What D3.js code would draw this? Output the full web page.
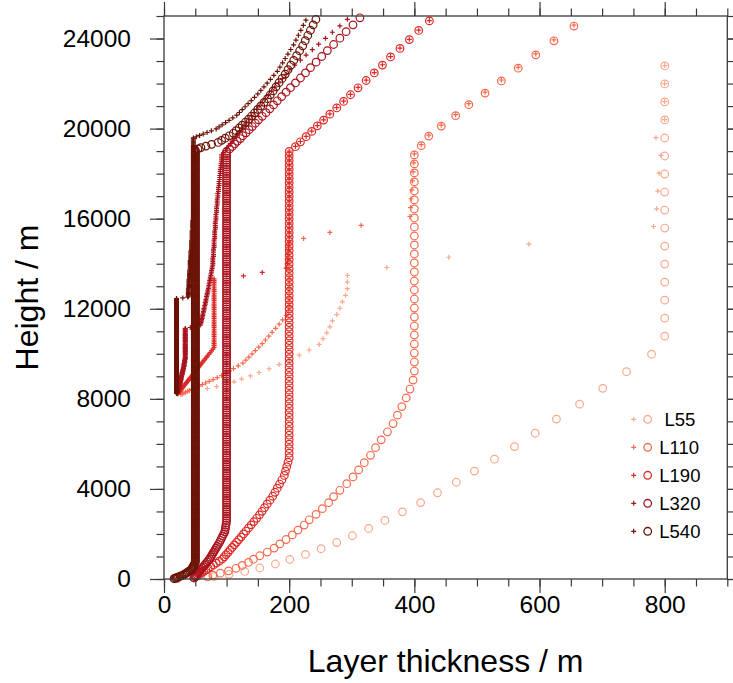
<!DOCTYPE html>
<html><head><meta charset="utf-8">
<script src="https://cdn.jsdelivr.net/npm/d3@7"></script>
<style>body{margin:0;background:#fff}svg{display:block}text{font-family:"Liberation Sans",Arial,Helvetica,sans-serif}</style>
</head><body><svg id="c" width="733" height="683"></svg>
<script>
// ---------------- DATA ----------------
// Layer thickness (m) of each model layer, listed from the lowest layer upward.
// Level height = base height + running sum of layer thicknesses.
const seriesNames = ["L55", "L110", "L190", "L320", "L540"];
const legendLabels = [" L55", "L110", "L190", "L320", "L540"];

// circles: grid over flat ground (base height 0 m)
const circleBase = [0, 0, 0, 0, 0];
// crosses: grid over an ~8.2 km mountain (surface heights)
const plusBase = [8274, 8175, 8209, 8210, 8233];

const L55_circle = [22,80,104,129,153,178,201,226,251,276,301,327,353,381,410,437,467,496,528,560,593,627,664,701,739,779,
800,800,800,800,800,800,800,800,800,800,800,800,800,800,800,800];

const L55_plus = [26,38,52,69,84,100,112,124,138,152,168,184,200,216,232,248,254,260,265,269,276,281,285,290,293,293,293,
356,455,583,782,787,789,791,794,786,800,800,800,800];

const L110_circle = [20,70,78,90,103,115,125,135,143,153,165,176,185,195,205,214,224,232,243,253,263,271,281,292,302,311,
320,330,338,347,357,366,373,380,387,393,398,
400,400,400,400,400,400,400,400,400,400,400,400,400,400,400,400,400,400,400,400,
400,400,400,400,400,
411,423,443,466,487,513,539,566,594,623,655];

const L110_plus = [27,29.3,31.8,34.5,37.5,40.7,44.2,48,52,56.5,61.3,66.5,72.2,78.4,85,92,98,104.5,111,118.5,126,130.7,
135.6,140.7,146,151.4,157,162,167.4,172.8,178.4,184,189.6,195.5,199,
200,200,200,200,200,200,200,200,200,200,200,200,200,200,200,
223,265,315,393,394,395,396,397,398,399,400,
411,423,443,466,487,513,539,566,594,623,655];

const L190_circle = [48,50.7,53.6,56.7,59.9,63.3,66.9,70.7,74.8,79,83.5,88.3,93.3,96.2,99.3,102.4,105.6,108.9,112.3,
115.9,119.5,123.3,127.1,131,135.1,139.3,143.6,148,152.6,156.6,160.7,164.9,169.3,173.7,177.3,180.9,184.6,188.4,
192.2,194.1,196.1,198.1,
200,200,200,200,200,200,200,200,200,200,200,200,200,200,200,200,200,200,200,200,
200,200,200,200,200,200,200,200,200,200,200,200,200,200,200,200,200,200,200,200,
200,200,200,200,200,200,200,200,200,200,200,200,200,200,200,200,200,200,200,200,
200,200,200,200,200,200,200,200,200,
210,218,227,236,245,255,265,276,287,298,310,323,336,349,362,377,392,407,424];

const L190_plus = [22,22.6,23.3,24,24.7,25.4,26.2,26.9,27.7,28.5,29.4,30.2,31.1,32,33,33.9,34.9,35.9,37,38.1,39.2,
40.3,41.5,42.7,44,45.3,46.6,47.9,49.3,50.8,52.3,53.8,55.4,57,58.6,60.3,62.1,63.9,65.8,67.7,69.7,71.7,73.8,76,78.2,80,
80,80,80,80,80,80,80,80,80,80,80,80,80,80,80,80,80,80,80,80,
80,80,80,80,80,80,80,80,80,80,80,80,80,80,80,80,80,80,
127,157,195,197,198,198,199,199,
200,200,200,200,200,200,200,200,200,200,200,200,200,200,200,200,200,200,200,200,
200,
210,218,227,236,245,255,265,276,287,298,310,323,336,349,362,377,392,407,424];

const L320_circle = [48,49.5,51,52.5,54.1,55.8,57.5,59.2,61,62.9,64.8,66.8,68.8,70.9,73,74.6,76.2,77.9,79.6,81.3,83.1,
84.9,86.8,88.7,90.3,92,93.7,95.4,97.2,97.8,98.3,98.9,99.5,
100,100,100,100,100,100,100,100,100,100,100,100,100,100,100,100,100,100,100,100,
100,100,100,100,100,100,100,100,100,100,100,100,100,100,100,100,100,100,100,100,
100,100,100,100,100,100,100,100,100,100,100,100,100,100,100,100,100,100,100,100,
100,100,100,100,100,100,100,100,100,100,100,100,100,100,100,100,100,100,100,100,
100,100,100,100,100,100,100,100,100,100,100,100,100,100,100,100,100,100,100,100,
100,100,100,100,100,100,100,100,100,100,100,100,100,100,100,100,100,100,100,100,
100,100,100,100,100,100,100,100,100,100,100,100,100,100,100,100,100,100,100,100,
100,100,100,100,100,100,100,100,100,100,100,100,100,100,100,100,100,100,100,100,
100,100,100,100,100,
105,109,113,117,122,126,131,136,141,146,151,157,163,169,175,181,188,195,202,210,218,226,234,243,252,261,271,281,
291,302,313];

const L320_plus = [21,21,21,21,22,22,22,22,23,23,23,23,24,24,24,24,25,25,25,25,26,26,26,26,26,27,27,27,27,27,
28,28,28,28,29,29,29,29,30,30,30,30,31,31,31,31,32,32,32,32,32,33,33,33,33,33,
34,34,34,34,34,34,34,34,34,34,34,34,34,34,34,34,34,34,34,34,
34,34,34,34,34,34,34,34,34,34,34,34,34,34,34,34,34,34,34,34,
34,
42,50,58,
59,59,60,60,61,61,62,62,63,63,64,64,65,65,66,66,67,67,68,68,69,69,70,70,71,71,
72,72,73,73,74,74,75,75,76,76,77,77,
78,78,78,78,78,79,79,79,79,79,80,80,80,80,80,81,81,81,81,81,82,82,82,82,82,
83,83,83,83,84,84,84,84,85,85,85,85,
86,86,86,87,87,87,88,88,88,89,89,89,90,90,90,91,91,91,92,92,92,92,
95,98,
100,103,106,109,112,115,118,121,124,128,132,136,140,144,148,152,157,162,167,172,177,183,189,195,201,
209,218,227,237,247,258,269,281,293];

const L540_circle = [16,17.6,19.4,21.3,23.4,25.8,28.4,31.2,33,34.9,36.9,39,41.3,43.7,44.6,45.5,46.4,47.3,48.3,49.2,
50,50,50,50,50,50,50,50,50,50,50,50,50,50,50,50,50,50,50,50,
50,50,50,50,50,50,50,50,50,50,50,50,50,50,50,50,50,50,50,50,
50,50,50,50,50,50,50,50,50,50,50,50,50,50,50,50,50,50,50,50,
50,50,50,50,50,50,50,50,50,50,50,50,50,50,50,50,50,50,50,50,
50,50,50,50,50,50,50,50,50,50,50,50,50,50,50,50,50,50,50,50,
50,50,50,50,50,50,50,50,50,50,50,50,50,50,50,50,50,50,50,50,
50,50,50,50,50,50,50,50,50,50,50,50,50,50,50,50,50,50,50,50,
50,50,50,50,50,50,50,50,50,50,50,50,50,50,50,50,50,50,50,50,
50,50,50,50,50,50,50,50,50,50,50,50,50,50,50,50,50,50,50,50,
50,50,50,50,50,50,50,50,50,50,50,50,50,50,50,50,50,50,50,50,
50,50,50,50,50,50,50,50,50,50,50,50,50,50,50,50,50,50,50,50,
50,50,50,50,50,50,50,50,50,50,50,50,50,50,50,50,50,50,50,50,
50,50,50,50,50,50,50,50,50,50,50,50,50,50,50,50,50,50,50,50,
50,50,50,50,50,50,50,50,50,50,50,50,50,50,50,50,50,50,50,50,
50,50,50,50,50,50,50,50,50,50,50,50,50,50,50,50,50,50,50,50,
50,50,50,50,50,50,50,50,50,50,50,50,50,50,50,50,50,50,50,50,
50,50,50,50,50,50,50,50,50,50,50,50,50,50,50,50,50,50,50,50,
50,50,50,50,50,50,50,50,50,50,50,50,50,50,50,50,50,50,50,50,
50,50,50,50,50,50,50,
54.3,59,67,76.1,86.5,92,97.9,104.2,110.8,115.3,120,124.9,130,135.3,139.9,144.7,149.6,154.7,160,165.4,169.8,174.3,
179,183.8,188.7,193.7,198.1,202.6,207.2,211.9,216.7,221.6,225.7,229.8,234,238.3,242.7];

const L540_plus = [
20,20,20,20,20,20,20,20,20,20,20,20,20,20,20,20,20,20,20,20,
20,20,20,20,20,20,20,20,20,20,20,20,20,20,20,20,20,20,20,20,
20,20,20,20,20,20,20,20,20,20,20,20,20,20,20,20,20,20,20,20,
20,20,20,20,20,20,20,20,20,20,20,20,20,20,20,20,20,20,20,20,
20,20,20,20,20,20,20,20,20,20,20,20,20,20,20,20,20,20,20,20,
20,20,20,20,20,20,20,20,20,20,20,20,20,20,20,20,20,20,20,20,
20,20,20,20,20,20,20,20,20,20,20,20,20,20,20,20,20,20,20,20,
20,20,20,20,20,20,20,20,20,20,20,20,20,20,20,20,20,20,20,20,
20,20,20,20,20,20,20,20,20,20,20,20,20,20,20,20,20,20,20,20,
20,20,20,20,20,20,20,20,20,20,20,20,20,20,20,20,20,20,20,20,
20,20,20,20,20,20,20,20,20,20,20,
30,38,
39,39,39,39,39,39,39,39,39,39,40,40,40,40,40,40,40,40,40,40,
41,41,41,41,41,41,41,41,41,41,42,42,42,42,42,42,42,42,42,42,
43,43,43,43,43,43,43,43,43,43,44,44,44,44,44,44,44,44,44,44,
45,45,45,45,45,45,45,45,45,45,46,46,46,46,46,46,46,46,46,46,
47,47,47,47,47,47,47,47,47,47,47,47,47,47,47,47,47,47,47,47,
47,47,47,47,47,47,47,47,47,47,47,47,47,47,47,47,47,47,47,47,
47,47,47,47,47,47,47,47,47,47,47,47,47,47,47,47,47,47,47,47,
47,47,47,47,47,47,47,47,47,47,47,47,47,47,47,47,47,47,
51.7,56.9,62.6,68.8,75.7,83.3,88,93,98.4,104,109.9,116.2,120.5,125,129.6,134.4,139.4,144.6,149.9,154.7,159.7,
164.8,170.1,175.5,181.1,185.2,189.4,193.6,198,202.5,207,210.8,214.7,218.6,222.6,226.7];

const circleSeries = [L55_circle, L110_circle, L190_circle, L320_circle, L540_circle];
const plusSeries = [L55_plus, L110_plus, L190_plus, L320_plus, L540_plus];

const xMajorTicks = [0, 200, 400, 600, 800];
const xMinorTicks = [0,50,100,150,200,250,300,350,400,450,500,550,600,650,700,750,800,850,900];
const yMajorTicks = [0, 4000, 8000, 12000, 16000, 20000, 24000];
const yMinorTicks = [0,1000,2000,3000,4000,5000,6000,7000,8000,9000,10000,11000,12000,13000,14000,15000,16000,17000,18000,19000,20000,21000,22000,23000,24000,25000];

// ---------------- STYLE ----------------
const colors = ["#fca88c", "#f56b4e", "#dc2a26", "#a8141e", "#6b1306"];
const W = 733, H = 683;
const plot = {left: 164, right: 727.3, top: 16, bottom: 579};
const axisColor = "#3a3a3a";

const svg = d3.select("#c");
const x = d3.scaleLinear().domain([0, 900]).range([plot.left, plot.right]);
const y = d3.scaleLinear().domain([0, 25000]).range([plot.bottom, plot.top]);

function levels(base, dz) {
  let z = base;
  return dz.map(d => { z += d; return {t: d, z: z}; }).filter(p => p.z <= 25000 && p.t <= 900);
}

const plusPath = "M-2.5,0H2.5M0,-2.5V2.5";
const marks = svg.append("g");
seriesNames.forEach((name, i) => {
  const g = marks.append("g").attr("class", "series-" + name);
  g.selectAll("circle").data(levels(circleBase[i], circleSeries[i])).join("circle")
    .attr("cx", d => x(d.t)).attr("cy", d => y(d.z)).attr("r", 3.8)
    .attr("fill", "none").attr("stroke", colors[i]).attr("stroke-width", 1.2);
  g.selectAll("path").data(levels(plusBase[i], plusSeries[i])).join("path")
    .attr("transform", d => `translate(${x(d.t)},${y(d.z)})`).attr("d", plusPath)
    .attr("fill", "none").attr("stroke", colors[i]).attr("stroke-width", 1.2);
});

// ---------------- AXES ----------------
function styleAxis(g) {
  g.selectAll("path.domain").remove();
  g.selectAll("line").attr("stroke", axisColor).attr("stroke-width", 1.2);
  g.selectAll("text").attr("fill", "#000").style("font-size", "24.5px")
    .style("font-family", '"Liberation Sans",Arial,Helvetica,sans-serif');
}
const fmt = d3.format("d");
// minor ticks
svg.append("g").attr("transform", `translate(0,${plot.bottom})`)
  .call(d3.axisBottom(x).tickValues(xMinorTicks).tickSize(7.5).tickFormat("")).call(styleAxis);
svg.append("g").attr("transform", `translate(0,${plot.top})`)
  .call(d3.axisTop(x).tickValues(xMinorTicks).tickSize(7.5).tickFormat("")).call(styleAxis);
svg.append("g").attr("transform", `translate(${plot.left},0)`)
  .call(d3.axisLeft(y).tickValues(yMinorTicks).tickSize(7.5).tickFormat("")).call(styleAxis);
svg.append("g").attr("transform", `translate(${plot.right},0)`)
  .call(d3.axisRight(y).tickValues(yMinorTicks).tickSize(7.5).tickFormat("")).call(styleAxis);
// major ticks
svg.append("g").attr("transform", `translate(0,${plot.bottom})`)
  .call(d3.axisBottom(x).tickValues(xMajorTicks).tickSize(14).tickPadding(3).tickFormat(fmt)).call(styleAxis);
svg.append("g").attr("transform", `translate(0,${plot.top})`)
  .call(d3.axisTop(x).tickValues(xMajorTicks).tickSize(14).tickFormat("")).call(styleAxis);
svg.append("g").attr("transform", `translate(${plot.left},0)`)
  .call(d3.axisLeft(y).tickValues(yMajorTicks).tickSize(14).tickPadding(19).tickFormat(fmt)).call(styleAxis);
svg.append("g").attr("transform", `translate(${plot.right},0)`)
  .call(d3.axisRight(y).tickValues(yMajorTicks).tickSize(14).tickFormat("")).call(styleAxis);

// frame
svg.append("rect").attr("x", plot.left).attr("y", plot.top)
  .attr("width", plot.right - plot.left).attr("height", plot.bottom - plot.top)
  .attr("fill", "none").attr("stroke", axisColor).attr("stroke-width", 1.3);

// titles
svg.append("text").attr("x", (plot.left + plot.right) / 2).attr("y", 672)
  .attr("text-anchor", "middle").style("font-size", "32px").text("Layer thickness / m");
svg.append("text").attr("transform", `translate(38,${(plot.top + plot.bottom) / 2}) rotate(-90)`)
  .attr("text-anchor", "middle").style("font-size", "32px").text("Height / m");

// legend
const leg = svg.append("g");
legendLabels.forEach((lab, i) => {
  const ly = 419.3 + i * 28;
  leg.append("path").attr("transform", `translate(633.7,${ly})`).attr("d", plusPath)
    .attr("stroke", colors[i]).attr("stroke-width", 1.2).attr("fill", "none");
  leg.append("circle").attr("cx", 647.7).attr("cy", ly).attr("r", 3.8)
    .attr("fill", "none").attr("stroke", colors[i]).attr("stroke-width", 1.3);
  leg.append("text").attr("x", 659.3).attr("y", ly + 6.6).style("font-size", "18.5px")
    .style("white-space", "pre").text(lab);
});
</script></body></html>
